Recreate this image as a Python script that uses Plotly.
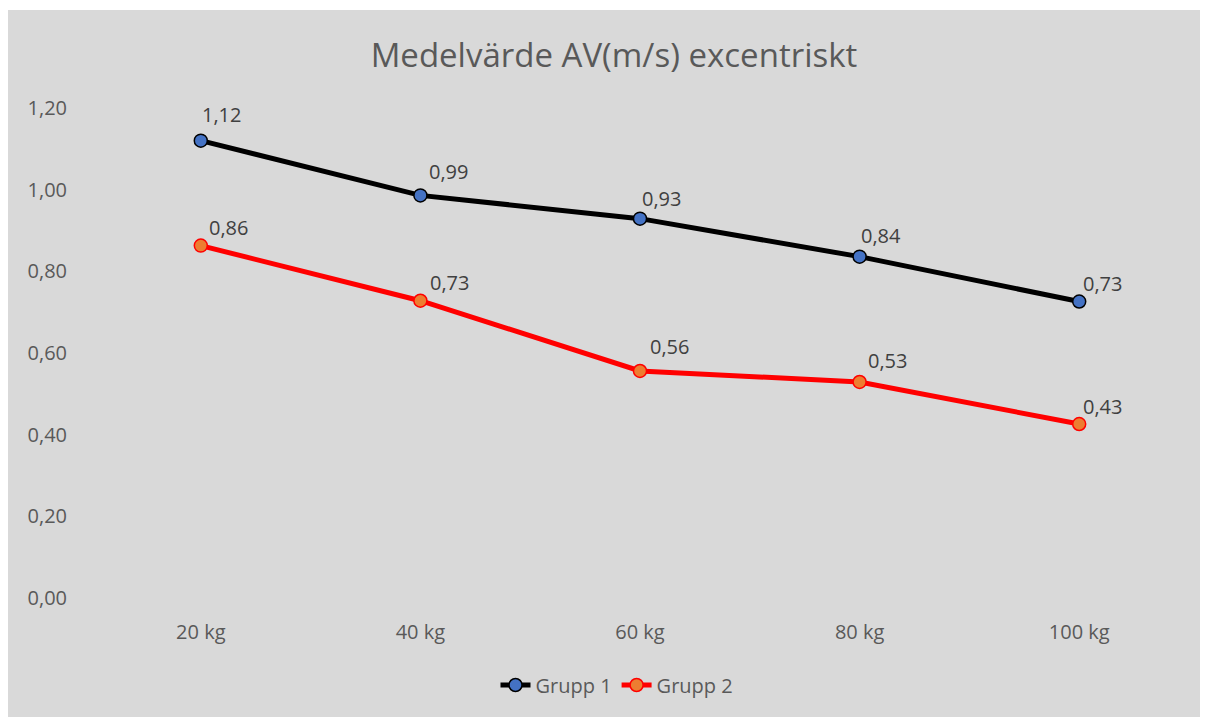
import plotly.graph_objects as go

categories = ["20 kg", "40 kg", "60 kg", "80 kg", "100 kg"]
grupp1 = [1.120, 0.986, 0.929, 0.836, 0.726]
grupp2 = [0.863, 0.728, 0.556, 0.529, 0.426]
y_ticks = [0.0, 0.2, 0.4, 0.6, 0.8, 1.0, 1.2]

# label offsets (px) relative to each marker, as placed in the original
label_dx = [[21, 28, 21, 21, 23], [28, 29, 29, 28, 23]]
label_dy = [[26, 24, 20, 21, 18], [18, 18, 24, 21, 18]]

# page body has an 8px margin; figure is sized so the visible layout matches
OFF = 8
W, H = 1208 - OFF, 717 - OFF
L, R, T, B = 91 - OFF, 19, 108 - OFF, 119
pw, ph = W - L - R, H - T - B

font_c = "#595959"
fam = "Open Sans, Liberation Sans, sans-serif"


def fmt(v):
    return f"{v:.2f}".replace(".", ",")


fig = go.Figure()
fig.add_trace(go.Scatter(
    x=categories, y=grupp1, name="Grupp 1", mode="lines+markers",
    line=dict(color="black", width=5),
    marker=dict(size=13, color="#4472C4", line=dict(color="black", width=1.5)),
))
fig.add_trace(go.Scatter(
    x=categories, y=grupp2, name="Grupp 2", mode="lines+markers",
    line=dict(color="#FF0000", width=5),
    marker=dict(size=13, color="#ED7D31", line=dict(color="#FF0000", width=1.5)),
))

for si, series in enumerate((grupp1, grupp2)):
    for i, (c, v) in enumerate(zip(categories, series)):
        fig.add_annotation(x=c, y=v, text=fmt(v), showarrow=False,
                           xshift=label_dx[si][i], yshift=label_dy[si][i],
                           xanchor="center", yanchor="middle",
                           font=dict(size=20, color="#404040", family=fam))

fig.add_shape(type="rect", xref="paper", yref="paper",
              x0=-L / pw, x1=1 + (R + 5) / pw, y0=-(B + 5) / ph, y1=1 + (T - 2) / ph,
              fillcolor="#D9D9D9", line=dict(width=0), layer="below")

fig.update_layout(
    width=W, height=H,
    margin=dict(l=L, r=R, t=T, b=B),
    paper_bgcolor="white",
    plot_bgcolor="#D9D9D9",
    separators=",.",
    title=dict(text="Medelvärde AV(m/s) excentriskt", x=(614 - OFF) / W, xanchor="center",
               xref="container",
               y=1 - (55 - OFF) / H, yanchor="middle",
               font=dict(size=33, color=font_c, family=fam)),
    xaxis=dict(type="category", range=[-0.5, 4.5], showgrid=False, zeroline=False,
               showline=False, ticks="", tickfont=dict(size=20, color=font_c, family=fam),
               ticklabelstandoff=20),
    yaxis=dict(range=[0, 1.2], tickvals=y_ticks, tickformat=".2f", showgrid=False,
               zeroline=False, showline=False, ticks="",
               tickfont=dict(size=20, color=font_c, family=fam),
               ticklabelstandoff=23),
    legend=dict(orientation="h", x=(617 - OFF) / W, xanchor="center", xref="container",
                y=1 - (685 - OFF) / H, yref="container", yanchor="middle",
                font=dict(size=20, color=font_c, family=fam),
                bgcolor="rgba(0,0,0,0)"),
    showlegend=True,
)

fig.write_html("out.html")
